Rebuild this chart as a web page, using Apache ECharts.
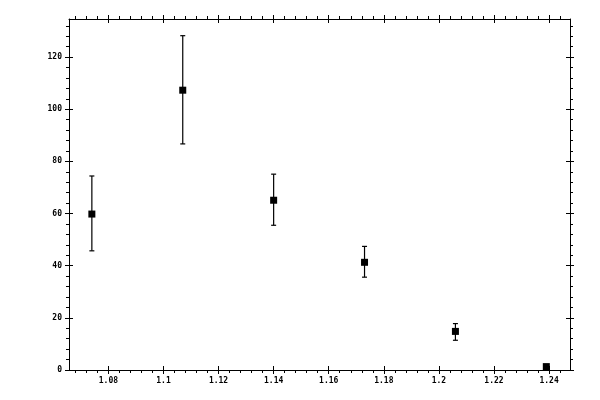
<!DOCTYPE html>
<html>
<head>
<meta charset="utf-8">
<script src="https://cdn.jsdelivr.net/npm/echarts@6/dist/echarts.min.js"></script>
<style>
  html, body { margin: 0; padding: 0; background: #fff; }
  #chart { width: 600px; height: 400px; }
</style>
</head>
<body>
<div id="chart"></div>
<script>
// measured points with error bars
const xs = [1.074, 1.107, 1.140, 1.173, 1.206, 1.239];
const ys = [59.8, 107.3, 65.1, 41.3, 14.8, 1.3];
const lo = [45.7, 86.7, 55.5, 35.6, 11.4, 0.6];
const hi = [74.4, 128.2, 75.1, 47.4, 17.8, 2.0];

// axis range and ticks
const xRange = [1.0657, 1.2476];
const yRange = [0, 134.6];
const xMajor = [1.08, 1.1, 1.12, 1.14, 1.16, 1.18, 1.2, 1.22, 1.24];
const yMajor = [0, 20, 40, 60, 80, 100, 120];
const xStep = 0.004;
const yStep = 4;

function minorTicks(range, step) {
    let out = [];
    let v = Math.ceil(range[0] / step - 1e-9) * step;
    while (v <= range[1] + 1e-9) {
        out.push(+v.toFixed(4));
        v += step;
    }
    return out;
}

const black = '#000';
const labelFont = { color: black, fontFamily: 'DejaVu Sans Mono', fontSize: 8, fontWeight: 'bold' };

// each side: main axis (line, labels, major out), minor ticks out, major ticks in
function sideAxes(range, major, minor, position, withLabels) {
    const base = {
        type: 'value', min: range[0], max: range[1], position: position,
        splitLine: { show: false }, gridIndex: 0
    };
    return [
        Object.assign({}, base, {
            axisLine: { show: true, onZero: false, lineStyle: { color: black, width: 1 } },
            axisTick: { show: true, length: 4, customValues: major, lineStyle: { color: black } },
            axisLabel: withLabels
                ? Object.assign({ show: true, margin: 7, customValues: major }, labelFont)
                : { show: false }
        }),
        Object.assign({}, base, {
            axisLine: { show: false, onZero: false },
            axisTick: { show: true, length: 3, customValues: minor, lineStyle: { color: black } },
            axisLabel: { show: false }
        }),
        Object.assign({}, base, {
            axisLine: { show: false, onZero: false },
            axisTick: { show: true, inside: true, length: 4, customValues: major, lineStyle: { color: black } },
            axisLabel: { show: false }
        })
    ];
}

const xMinor = minorTicks(xRange, xStep);
const yMinor = minorTicks(yRange, yStep);

const chart = echarts.init(document.getElementById('chart'));

chart.setOption({
    animation: false,
    backgroundColor: '#fff',
    grid: { left: 69, right: 30, top: 19, bottom: 30 },
    xAxis: sideAxes(xRange, xMajor, xMinor, 'bottom', true)
        .concat(sideAxes(xRange, xMajor, xMinor, 'top', false)),
    yAxis: sideAxes(yRange, yMajor, yMinor, 'left', true)
        .concat(sideAxes(yRange, yMajor, yMinor, 'right', false)),
    series: [
        {
            type: 'custom',
            xAxisIndex: 0,
            yAxisIndex: 0,
            encode: { x: 0, y: [1, 2] },
            data: xs.map((x, i) => [x, lo[i], hi[i]]),
            renderItem: function (params, api) {
                const x = api.value(0);
                const top = api.coord([x, api.value(2)]);
                const bot = api.coord([x, api.value(1)]);
                const w = 2.5;
                const style = { stroke: black, lineWidth: 1.2 };
                return {
                    type: 'group',
                    children: [
                        { type: 'line', shape: { x1: top[0], y1: top[1], x2: bot[0], y2: bot[1] }, style: style },
                        { type: 'line', shape: { x1: top[0] - w, y1: top[1], x2: top[0] + w, y2: top[1] }, style: style },
                        { type: 'line', shape: { x1: bot[0] - w, y1: bot[1], x2: bot[0] + w, y2: bot[1] }, style: style }
                    ]
                };
            },
            z: 2
        },
        {
            type: 'scatter',
            xAxisIndex: 0,
            yAxisIndex: 0,
            symbol: 'rect',
            symbolSize: 7,
            itemStyle: { color: black, opacity: 1 },
            data: xs.map((x, i) => [x, ys[i]]),
            z: 3
        }
    ]
});
</script>
</body>
</html>
